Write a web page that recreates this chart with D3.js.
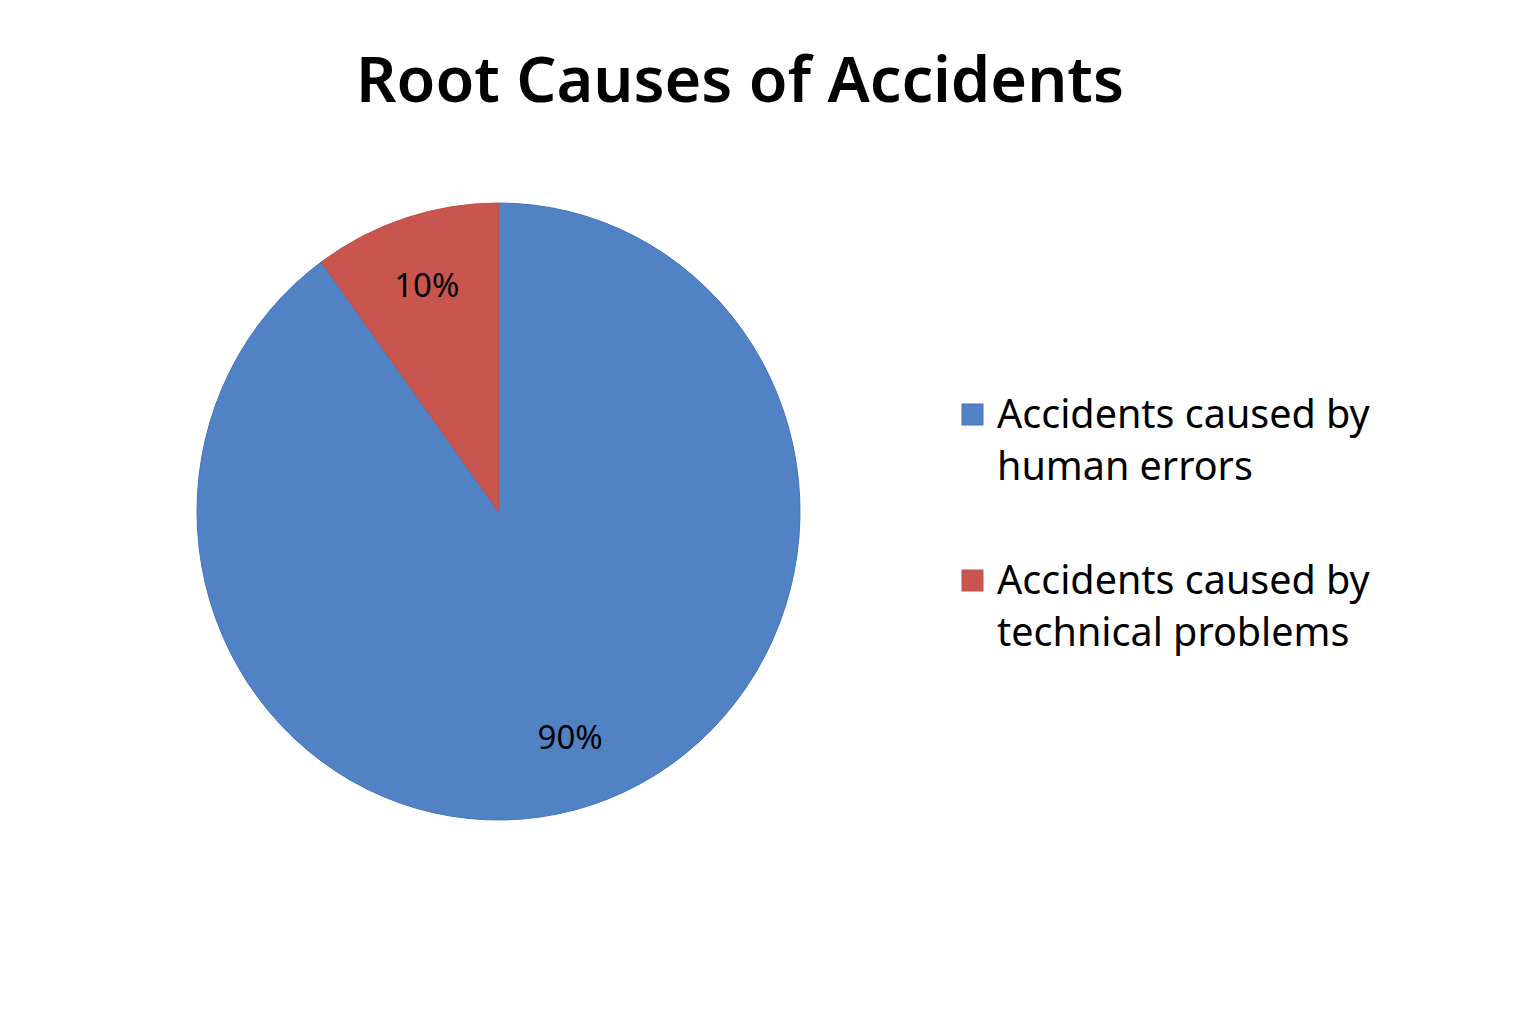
<!DOCTYPE html>
<html>
<head>
<meta charset="utf-8">
<script src="https://cdn.jsdelivr.net/npm/d3@7"></script>
<style>
  body { margin: 0; background: #fff; }
  text { font-family: "Noto Sans", sans-serif; fill: #000; }
</style>
</head>
<body>
<script>
const categories = ["Accidents caused by human errors", "Accidents caused by technical problems"];
const legendLines = [["Accidents caused by", "human errors"], ["Accidents caused by", "technical problems"]];
const shares = [90, 10];
const labels = ["90%", "10%"];
const colors = ["#5183C4", "#C9554F"];
const strokes = ["#4472C4", "#C0504D"];

const width = 1536, height = 1024;
const svg = d3.select('body').append('svg')
    .attr('width', width)
    .attr('height', height);

svg.append('text')
    .attr('x', 740)
    .attr('y', 102)
    .attr('text-anchor', 'middle')
    .attr('font-size', 63)
    .attr('font-weight', 600)
    .text('Root Causes of Accidents');

// the pie in the picture is a touch taller than wide
const cx = 498.5, cy = 511.5, r = 301.5, sy = 308.5 / 301.5;
const pie = d3.pie().sort(null).value(d => d);
const arc = d3.arc().innerRadius(0).outerRadius(r);
const labelArc = d3.arc().innerRadius(232).outerRadius(232);

const slices = pie(shares);

svg.append('g')
    .attr('transform', `translate(${cx},${cy}) scale(1,${sy})`)
    .selectAll('path')
    .data(slices)
    .enter()
    .append('path')
    .attr('d', arc)
    .attr('fill', (_, i) => colors[i])
    .attr('stroke', (_, i) => strokes[i])
    .attr('stroke-width', 1)
    .attr('vector-effect', 'non-scaling-stroke');

svg.append('g')
    .attr('transform', `translate(${cx},${cy})`)
    .selectAll('text')
    .data(slices)
    .enter()
    .append('text')
    .attr('transform', d => {
        const [x, y] = labelArc.centroid(d);
        return `translate(${x},${y * sy})`;
    })
    .attr('text-anchor', 'middle')
    .attr('dy', '0.35em')
    .attr('font-size', 33)
    .text((_, i) => labels[i]);

const legend = svg.append('g').attr('transform', 'translate(962,0)');
const entry = legend.selectAll('g')
    .data(categories)
    .enter()
    .append('g')
    .attr('transform', (_, i) => `translate(0,${404 + i * 166})`);

entry.append('rect')
    .attr('width', 21)
    .attr('height', 21)
    .attr('fill', (_, i) => colors[i])
    .attr('stroke', (_, i) => strokes[i]);

entry.append('text')
    .attr('x', 35)
    .attr('y', 24)
    .attr('font-size', 39.5)
    .selectAll('tspan')
    .data((_, i) => legendLines[i])
    .enter()
    .append('tspan')
    .attr('x', 35)
    .attr('dy', (_, j) => j === 0 ? 0 : 52)
    .text(d => d);
</script>
</body>
</html>
